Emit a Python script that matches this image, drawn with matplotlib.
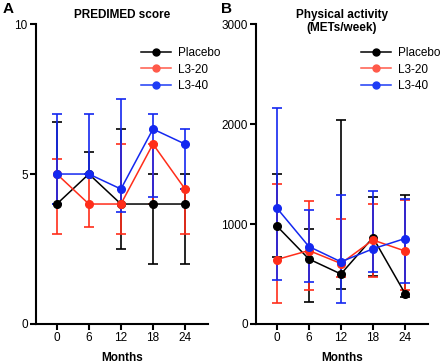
import matplotlib
matplotlib.use("Agg")
import matplotlib.pyplot as plt
from matplotlib.lines import Line2D
import numpy as np

plt.rcParams['font.family'] = ['Liberation Sans', 'DejaVu Sans']

months = [0, 6, 12, 18, 24]
groups = ["Placebo", "L3-20", "L3-40"]

# Panel A: PREDIMED score (median with lower/upper bounds)
pred_placebo = [4, 5, 4, 4, 4]
pred_placebo_lo = [4, 5, 2.5, 2, 2]
pred_placebo_hi = [6.75, 5.75, 6.5, 5, 5]
pred_l320 = [5, 4, 4, 6, 4.5]
pred_l320_lo = [3, 3.25, 3, 4, 3]
pred_l320_hi = [5.5, 5, 6, 6, 4.5]
pred_l340 = [5, 5, 4.5, 6.5, 6]
pred_l340_lo = [4, 5, 3.75, 4.25, 4.5]
pred_l340_hi = [7, 7, 7.5, 7, 6.5]

# Panel B: Physical activity (METs/week)
pa_placebo = [980, 650, 500, 865, 305]
pa_placebo_lo = [670, 222, 350, 485, 273]
pa_placebo_hi = [1505, 953, 2045, 1270, 1292]
pa_l320 = [645, 735, 605, 840, 730]
pa_l320_lo = [210, 342, 470, 470, 338]
pa_l320_hi = [1398, 1230, 1050, 1200, 1240]
pa_l340 = [1160, 775, 622, 752, 855]
pa_l340_lo = [440, 425, 213, 520, 413]
pa_l340_hi = [2162, 1138, 1295, 1333, 1250]

colors = ["#000000", "#FF2D1A", "#1428F0"]
legend_colors = ["#000000", "#FF5A4A", "#1E3CF5"]

fig = plt.figure(figsize=(4.4, 3.64), dpi=100)
axA = fig.add_axes([0.0818, 0.1099, 0.3909, 0.824])
axB = fig.add_axes([0.5818, 0.1099, 0.3909, 0.824])


def draw(ax, series, ylim, yticks, title):
    for (v, lo, hi), c in zip(series, colors):
        v = np.array(v, float)
        yerr = [v - np.array(lo, float), np.array(hi, float) - v]
        ax.errorbar(months, v, yerr=yerr, fmt='none', ecolor=c,
                    elinewidth=1.2, capsize=3.5, capthick=1.2, zorder=2)
    for (v, lo, hi), c in zip(series, colors):
        ax.plot(months, v, '-o', color=c, lw=1.1, ms=5.5, zorder=3)
    ax.set_xlim(-3.9, 28.3)
    ax.set_ylim(*ylim)
    ax.set_xticks(months)
    ax.set_yticks(yticks)
    for s in ['top', 'right']:
        ax.spines[s].set_visible(False)
    for s in ['left', 'bottom']:
        ax.spines[s].set_linewidth(1.5)
    ax.tick_params(width=1.5, length=4, labelsize=8.5, pad=2)
    ax.set_xlabel("Months", fontsize=8.5, fontweight='bold')
    ax.xaxis.set_label_coords(0.5, -0.092)
    ax.text(0.5, 1.05, title, transform=ax.transAxes, ha='center', va='top',
            fontsize=8.5, fontweight='bold', linespacing=1.15)
    handles = [Line2D([0], [0], color=c, marker='o', lw=1.1, ms=5)
               for c in legend_colors]
    ax.legend(handles, groups, loc='upper right', bbox_to_anchor=(1.1, 0.94),
              frameon=False, fontsize=8.5, handlelength=2.5,
              handletextpad=0.6, labelspacing=0.4, borderaxespad=0)


draw(axA, [(pred_placebo, pred_placebo_lo, pred_placebo_hi),
           (pred_l320, pred_l320_lo, pred_l320_hi),
           (pred_l340, pred_l340_lo, pred_l340_hi)],
     (0, 10), [0, 5, 10], "PREDIMED score")
draw(axB, [(pa_placebo, pa_placebo_lo, pa_placebo_hi),
           (pa_l320, pa_l320_lo, pa_l320_hi),
           (pa_l340, pa_l340_lo, pa_l340_hi)],
     (0, 3000), [0, 1000, 2000, 3000], "Physical activity\n(METs/week)")

fig.text(0.005, 0.995, "A", fontsize=11, fontweight='bold', va='top', ha='left')
fig.text(0.503, 0.995, "B", fontsize=11, fontweight='bold', va='top', ha='left')

fig.savefig("out.png", dpi=100)
